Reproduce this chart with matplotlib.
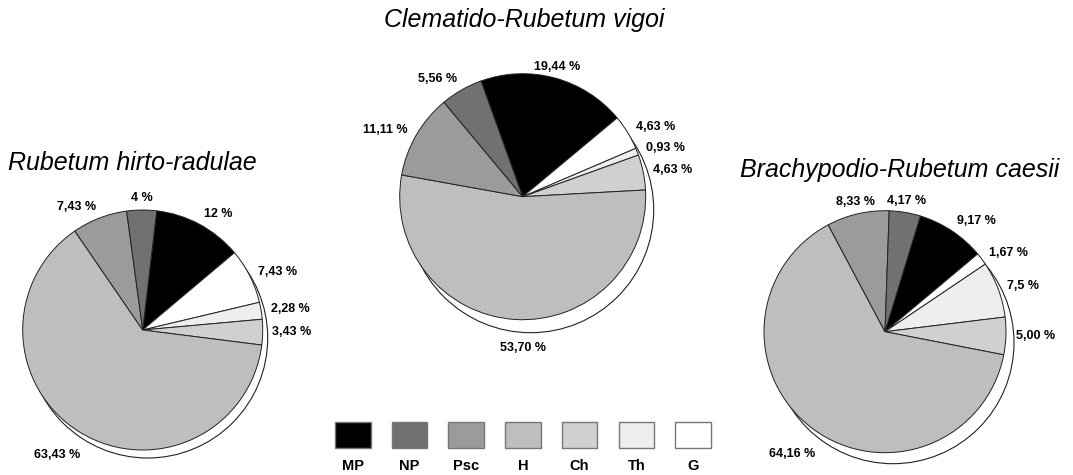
import matplotlib
matplotlib.use("Agg")
import matplotlib.pyplot as plt
from matplotlib.patches import Circle, Rectangle
import numpy as np

plt.rcParams["font.family"] = ["Liberation Sans", "DejaVu Sans"]

# life forms, in clockwise order starting at MP
FORMS = ["MP", "G", "Th", "Ch", "H", "Psc", "NP"]
LEGEND_ORDER = ["MP", "NP", "Psc", "H", "Ch", "Th", "G"]
COLORS = {"MP": "#000000", "NP": "#717171", "Psc": "#9b9b9b", "H": "#bebebe",
          "Ch": "#d0d0d0", "Th": "#eeeeee", "G": "#ffffff"}

TITLES = ["Rubetum hirto-radulae", "Clematido-Rubetum vigoi", "Brachypodio-Rubetum caesii"]
VALUES_RUB = [12, 7.43, 2.28, 3.43, 63.43, 7.43, 4]
VALUES_CLE = [19.44, 4.63, 0.93, 4.63, 53.70, 11.11, 5.56]
VALUES_BRA = [9.17, 1.67, 7.5, 5.00, 64.16, 8.33, 4.17]
LABELS_RUB = ["12 %", "7,43 %", "2,28 %", "3,43 %", "63,43 %", "7,43 %", "4 %"]
LABELS_CLE = ["19,44 %", "4,63 %", "0,93 %", "4,63 %", "53,70 %", "11,11 %", "5,56 %"]
LABELS_BRA = ["9,17 %", "1,67 %", "7,5 %", "5,00 %", "64,16 %", "8,33 %", "4,17 %"]

W, H = 1073, 475

# layout (pixel space, y up)
pies = [
    dict(vals=VALUES_RUB, labs=LABELS_RUB, c=(142.7, H - 330), r=120, start=83.3,
         shadow=(5, 8), title_xy=(8, H - 163), title_ha="left"),
    dict(vals=VALUES_CLE, labs=LABELS_CLE, c=(522.7, H - 196.7), r=123, start=109.8,
         shadow=(8, 13), title_xy=(524, H - 20), title_ha="center"),
    dict(vals=VALUES_BRA, labs=LABELS_BRA, c=(885, H - 331.7), r=121, start=73,
         shadow=(8, 11), title_xy=(740, H - 170), title_ha="left"),
]

fig = plt.figure(figsize=(W / 100, H / 100), dpi=100)
ax = fig.add_axes([0, 0, 1, 1])

for i, p in enumerate(pies):
    cx, cy = p["c"]
    r = p["r"]
    sx, sy = p["shadow"]
    # white offset disc behind the pie (fake 3d edge)
    ax.add_patch(Circle((cx + sx, cy - sy), r, facecolor="white",
                        edgecolor="#222222", lw=0.8, zorder=0))
    wedges, _ = ax.pie(p["vals"], colors=[COLORS[f] for f in FORMS],
                       startangle=p["start"], counterclock=False,
                       center=(cx, cy), radius=r, normalize=True,
                       wedgeprops=dict(edgecolor="#222222", linewidth=0.7))
    for w, lab in zip(wedges, p["labs"]):
        w.set_zorder(1)
        mid = np.deg2rad((w.theta1 + w.theta2) / 2)
        ux, uy = np.cos(mid), np.sin(mid)
        x = cx + 1.08 * r * ux
        y = cy + 1.08 * r * uy
        ha = "left" if ux > 0.3 else ("right" if ux < -0.3 else "center")
        va = "center"
        if uy < -0.5:
            x += sx
            y -= sy
            va = "top"
        elif uy > 0.8:
            va = "bottom"
            y -= 4
        ax.text(x, y, lab, ha=ha, va=va, fontsize=9, fontweight="bold", zorder=3)
    ax.text(*p["title_xy"], TITLES[i], ha=p["title_ha"], va="center",
            fontsize=18, fontstyle="italic")

# legend
for k, f in enumerate(LEGEND_ORDER):
    x0 = 335 + k * 56.7
    ax.add_patch(Rectangle((x0, H - 448.3), 35.5, 26, facecolor=COLORS[f],
                           edgecolor="#777777", lw=1.0))
    ax.text(x0 + 17.75, H - 466, f, ha="center", va="center",
            fontsize=10.5, fontweight="bold")

ax.set_xlim(0, W)
ax.set_ylim(0, H)
ax.set_aspect("equal")
ax.axis("off")

fig.savefig("out.png", dpi=100)
